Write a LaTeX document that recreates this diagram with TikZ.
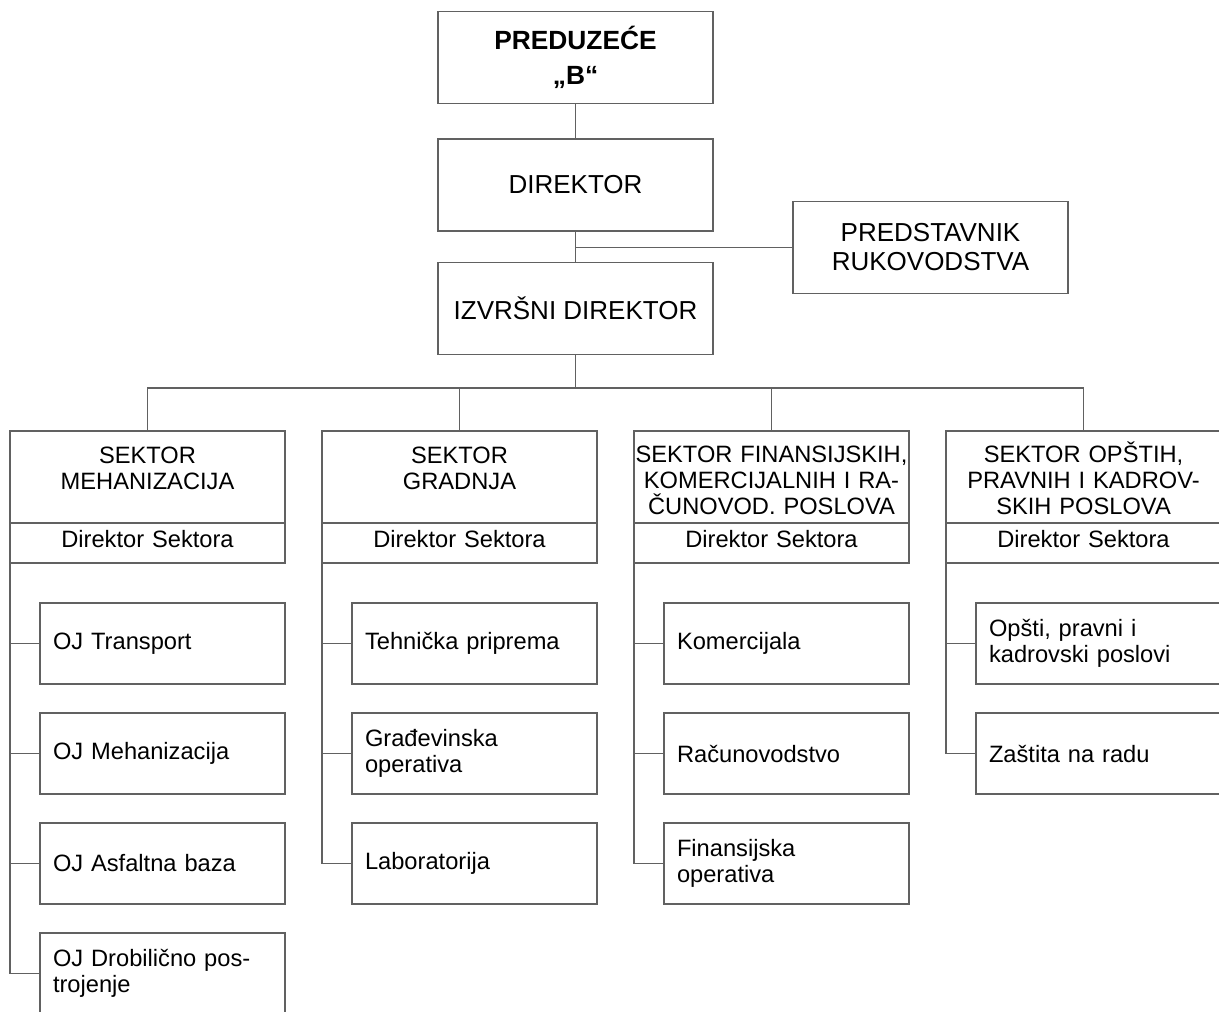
\documentclass[tikz,border=0pt]{standalone}
\usepackage{fontspec}
\setmainfont{Liberation Sans}
\usetikzlibrary{positioning}

\begin{document}
\begin{tikzpicture}[x=0.75pt,y=-0.75pt,line width=1pt,
    every node/.style={font=\fontsize{17.75pt}{19.5pt}\selectfont},
    box/.style={draw=black!62,minimum width=206.25pt,minimum height=69pt,align=center,outer sep=0pt},
    top/.style={box,font=\fontsize{19.5pt}{21.75pt}\selectfont},
    head/.style={box,inner xsep=0pt,text width=206.25pt,execute at begin node=\rule{0pt}{18pt}},
    chief/.style={box,inner sep=0pt,text width=206.25pt,minimum height=30pt,text height=13pt,text depth=6pt},
    unit/.style={draw=black!62,minimum width=183.75pt,minimum height=60.75pt,inner xsep=9.75pt,text width=164.25pt,align=left,outer sep=0pt},
    link/.style={draw=black!62}]
      \useasboundingbox (0,0) rectangle (1219,1012);
      % top of the chart
      \node[top,font=\fontsize{19.75pt}{21.75pt}\selectfont\bfseries] (firm) at (575.5,57.5) {PREDUZEĆE\\[4.5pt]„B“};
      \node[top] (boss) at (575.5,185) {DIREKTOR};
      \node[top] (exec) at (575.5,308.5) {IZVRŠNI DIREKTOR};
      \node[top] (rep) at (930.5,247.5) {PREDSTAVNIK\\RUKOVODSTVA};
      % sectors
      \node[head,anchor=north] (sm) at (147.5,431) {SEKTOR\\MEHANIZACIJA\\\mbox{}};
      \node[head,anchor=north] (sg) at (459.5,431) {SEKTOR\\GRADNJA\\\mbox{}};
      \node[head,anchor=north] (sf) at (771.5,431) {SEKTOR FINANSIJSKIH,\\KOMERCIJALNIH I RA-\\ČUNOVOD. POSLOVA};
      \node[head,anchor=north] (so) at (1083.5,431) {SEKTOR OPŠTIH,\\PRAVNIH I KADROV-\\SKIH POSLOVA};
      \node[chief,below=0pt of sm] (mdir) {Direktor Sektora};
      \node[chief,below=0pt of sg] (gdir) {Direktor Sektora};
      \node[chief,below=0pt of sf] (fdir) {Direktor Sektora};
      \node[chief,below=0pt of so] (odir) {Direktor Sektora};
      % units
      \node[unit,anchor=north west] (m1) at (40,603) {OJ Transport};
      \node[unit,below=21.75pt of m1] (m2) {OJ Mehanizacija};
      \node[unit,below=21.75pt of m2] (m3) {OJ Asfaltna baza};
      \node[unit,below=21.75pt of m3] (m4) {OJ Drobilično pos-\\trojenje};
      \node[unit,anchor=north west] (g1) at (352,603) {Tehnička priprema};
      \node[unit,below=21.75pt of g1] (g2) {Građevinska\\operativa};
      \node[unit,below=21.75pt of g2] (g3) {Laboratorija};
      \node[unit,anchor=north west] (f1) at (664,603) {Komercijala};
      \node[unit,below=21.75pt of f1] (f2) {Računovodstvo};
      \node[unit,below=21.75pt of f2] (f3) {Finansijska\\operativa};
      \node[unit,anchor=north west] (o1) at (976,603) {Opšti, pravni i\\kadrovski poslovi};
      \node[unit,below=21.75pt of o1] (o2) {Zaštita na radu};
      % lines
      \coordinate (bus) at (575.5,388);
      \draw[link] (firm) -- (boss);
      \draw[link] (boss) -- (exec);
      \draw[link] (rep.west) -- (rep.west -| boss.south);
      \draw[link] (exec) -- (bus);
      \draw[link] (bus) -| (sm);
      \draw[link] (bus) -| (sg);
      \draw[link] (bus) -| (sf);
      \draw[link] (bus) -| (so);
      \draw[link] (mdir.south west) |- (m1);
      \draw[link] (mdir.south west) |- (m2);
      \draw[link] (mdir.south west) |- (m3);
      \draw[link] (mdir.south west) |- (m4);
      \draw[link] (gdir.south west) |- (g1);
      \draw[link] (gdir.south west) |- (g2);
      \draw[link] (gdir.south west) |- (g3);
      \draw[link] (fdir.south west) |- (f1);
      \draw[link] (fdir.south west) |- (f2);
      \draw[link] (fdir.south west) |- (f3);
      \draw[link] (odir.south west) |- (o1);
      \draw[link] (odir.south west) |- (o2);
    \end{tikzpicture}
\end{document}
